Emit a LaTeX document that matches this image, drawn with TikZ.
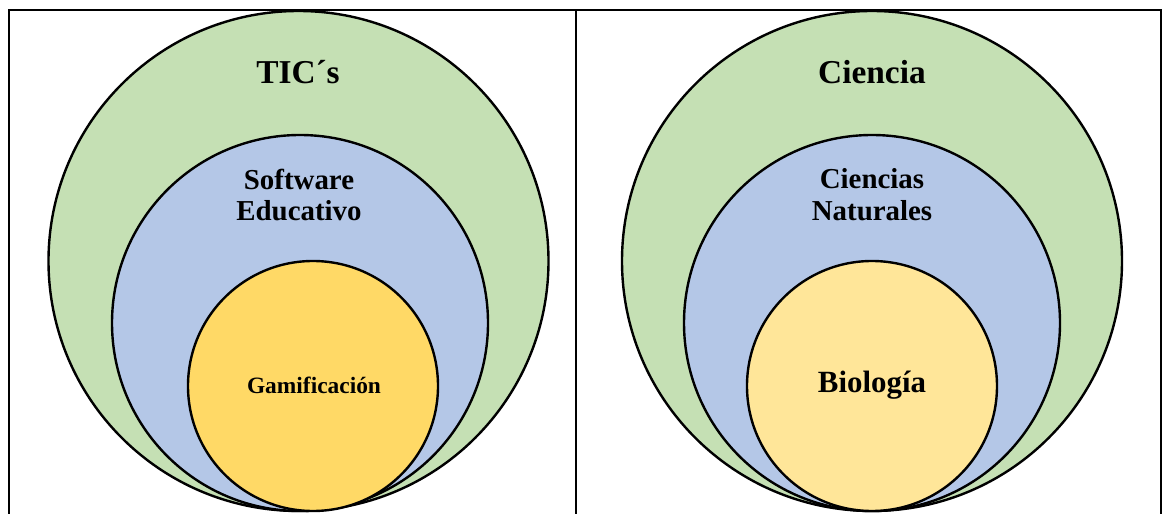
\documentclass[tikz,border=0pt]{standalone}
\usepackage{fontspec}
\setmainfont{Liberation Serif}
\begin{document}
\begin{tikzpicture}[x=1bp,y=-1bp,
  ring/.style={draw=black,line width=2.4bp},
  outer/.style={ring,fill=green1},
  middle/.style={ring,fill=blue1},
  inner/.style={ring},
  rule/.style={line width=2.2bp,line cap=rect},
  lbl/.style={font=\bfseries,align=center,inner sep=0pt}]
\definecolor{green1}{HTML}{C5E0B4}
\definecolor{blue1}{HTML}{B4C7E7}
\definecolor{yellowA}{HTML}{FFD966}
\definecolor{yellowB}{HTML}{FFE699}
\useasboundingbox (0,0) rectangle (1165,514);
% table rules
\coordinate (tl) at (9,10);
\coordinate (tr) at (1161,10);
\coordinate (tm) at (576,10);
\coordinate (bl) at (9,516);
\coordinate (br) at (1161,516);
\coordinate (bm) at (576,516);
\draw[rule] (bl) -- (tl) -- (tr) -- (br);
\draw[rule] (tm) -- (bm);
% left
\draw[outer] (298.5,261) circle (250);
\draw[middle] (300,323) circle (188);
\draw[inner,fill=yellowA] (313,386) circle (125);
% right
\draw[outer] (872,261) circle (250);
\draw[middle] (872,323) circle (188);
\draw[inner,fill=yellowB] (872,386) circle (125);
% labels
\node[lbl,font=\fontsize{33.5}{38}\selectfont\bfseries] (tics) at (298,72) {TIC´s};
\node[lbl,font=\fontsize{29}{32}\selectfont\bfseries] (soft) at (299,195) {Software\\Educativo};
\node[lbl,font=\fontsize{23.5}{27}\selectfont\bfseries] (gam) at (314,385) {Gamificación};
\node[lbl,font=\fontsize{33.5}{38}\selectfont\bfseries] (cien) at (872,72) {Ciencia};
\node[lbl,font=\fontsize{29}{32}\selectfont\bfseries] (nat) at (872,195) {Ciencias\\Naturales};
\node[lbl,font=\fontsize{31}{36}\selectfont\bfseries] (bio) at (872,385) {Biología};
\end{tikzpicture}
\end{document}
